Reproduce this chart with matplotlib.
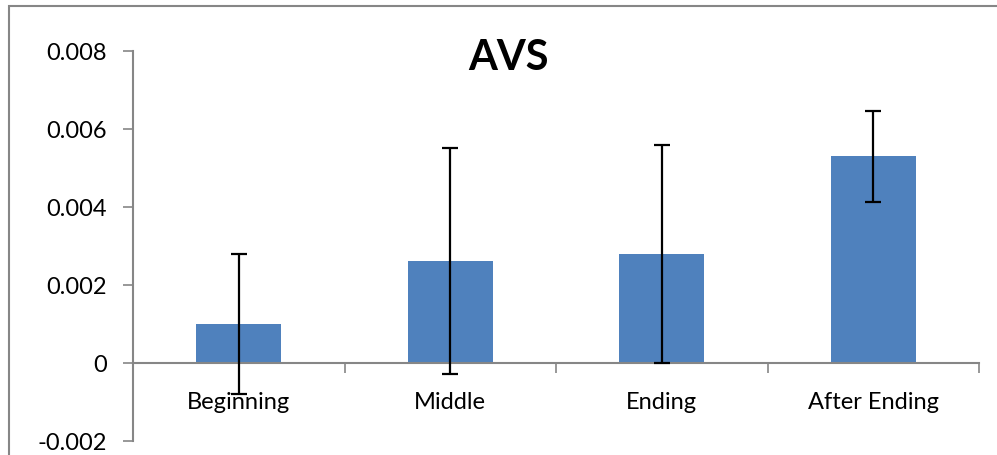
import matplotlib
matplotlib.use("Agg")
import matplotlib.pyplot as plt
from matplotlib.patches import Rectangle
import numpy as np

categories = ["Beginning", "Middle", "Ending", "After Ending"]
values = [0.001, 0.0026, 0.0028, 0.0053]
errors = [0.0018, 0.0029, 0.0028, 0.00117]
yticks = [-0.002, 0, 0.002, 0.004, 0.006, 0.008]
ytick_labels = ["-0.002", "0", "0.002", "0.004", "0.006", "0.008"]

plt.rcParams['font.family'] = ['Lato', 'DejaVu Sans']
grey = "#868686"

fig = plt.figure(figsize=(9.97, 4.56), dpi=100)
# chart-area border (cropped at right/bottom in the original)
fig.patches.append(Rectangle((9/997, -0.5), 2, 0.5 + 449/456, transform=fig.transFigure,
                             fill=False, edgecolor=grey, linewidth=1.5))

ax = fig.add_axes([133/997, 14.3/456, 846/997, 389.7/456])
x = np.arange(len(categories))
ax.bar(x, values, width=0.4, color="#4F81BD", zorder=2)
ax.errorbar(x, values, yerr=errors, fmt="none", ecolor="black", elinewidth=1.6,
            capsize=6, capthick=1.6, zorder=3)

ax.set_xlim(-0.5, 3.5)
ax.set_ylim(-0.002, 0.008)
ax.set_yticks(yticks)
ax.set_yticklabels(ytick_labels, fontsize=17)
ax.tick_params(axis="y", direction="out", length=7, width=1.2, color=grey, pad=12)

ax.set_xticks(np.arange(-0.5, 4, 1))
ax.set_xticklabels([])
ax.set_xticks(x, minor=True)
ax.set_xticklabels(categories, minor=True)
ax.tick_params(axis="x", which="major", direction="out", length=7, width=1.2, color=grey)
ax.tick_params(axis="x", which="minor", length=0, pad=20, labelsize=17)

for s in ["top", "right"]:
    ax.spines[s].set_visible(False)
ax.spines["bottom"].set_position(("data", 0))
ax.spines["bottom"].set_color(grey)
ax.spines["left"].set_color(grey)
ax.spines["bottom"].set_linewidth(1.5)
ax.spines["left"].set_linewidth(1.5)

fig.text(508/997, 1 - 58/456, "AVS", fontsize=30, fontweight="bold", ha="center", va="center")

fig.savefig("out.png", dpi=100)
